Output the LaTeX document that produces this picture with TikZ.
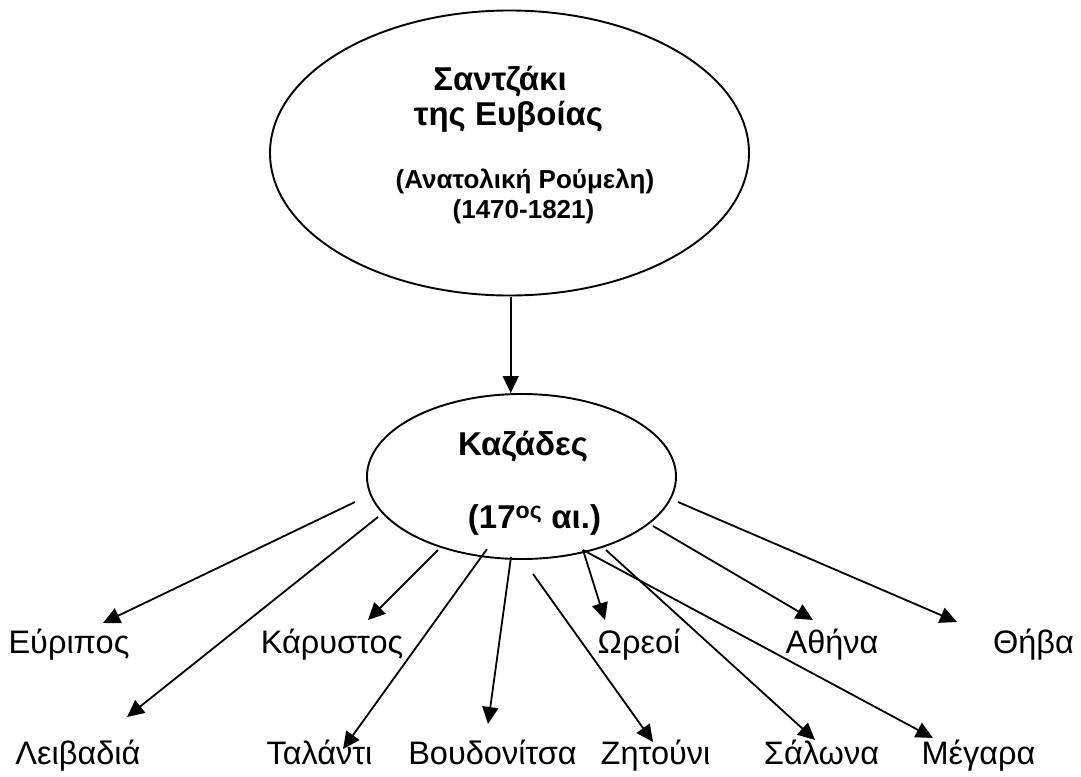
\documentclass[tikz,border=0pt]{standalone}
\usepackage{fontspec}
\setmainfont{Liberation Sans}
\usetikzlibrary{shapes.geometric,arrows.meta}
\begin{document}
\begin{tikzpicture}[x=1pt,y=-1pt,
  ell/.style={draw, ellipse, line width=1.9pt, inner sep=0pt},
  lbl/.style={font=\fontsize{32.5}{38}\selectfont, anchor=base, inner sep=0pt},
  ttl/.style={font=\fontsize{33}{38}\selectfont\bfseries, anchor=base, inner sep=0pt},
  subt/.style={font=\fontsize{26}{30}\selectfont\bfseries, anchor=base, inner sep=0pt},
  arr/.style={-{Triangle[length=17pt,width=16pt]}, line width=1.8pt}]
\useasboundingbox (0,0) rectangle (1081,776);
% ellipses
\node[ell, minimum width=479pt, minimum height=285pt] (sanj) at (509.5,153) {};
\node[ell, minimum width=309pt, minimum height=165pt] (kaz) at (521.5,476.5) {};
% texts in ellipses
\node[ttl] (t1) at (500,90) {Σαντζάκι};
\node[ttl] (t2) at (508.5,125) {της Ευβοίας};
\node[subt] (t3) at (525,188) {(Ανατολική Ρούμελη)};
\node[subt] (t4) at (523.5,218) {(1470-1821)};
\node[ttl] (k1) at (523,455) {Καζάδες};
\node[ttl] (k2) at (534.5,528) {(17\textsuperscript{ος} αι.)};
% labels
\node[lbl] (euripos) at (69,653) {Εύριπος};
\node[lbl] (karystos) at (332,653) {Κάρυστος};
\node[lbl] (oreoi) at (639,653) {Ωρεοί};
\node[lbl] (athina) at (832,653) {Αθήνα};
\node[lbl] (thiva) at (1033.5,653) {Θήβα};
\node[lbl] (leivadia) at (78,764) {Λειβαδιά};
\node[lbl] (talanti) at (319.5,764) {Ταλάντι};
\node[lbl] (voudonitsa) at (492.5,764) {Βουδονίτσα};
\node[lbl] (zitouni) at (655.5,764) {Ζητούνι};
\node[lbl] (salona) at (821.5,764) {Σάλωνα};
\node[lbl] (megara) at (978.5,764) {Μέγαρα};
% connector end points
\coordinate (s0) at (510.7,297);  \coordinate (e0) at (510.7,393);
\coordinate (s1) at (355,502);    \coordinate (e1) at (103,623);
\coordinate (s2) at (378,517);    \coordinate (e2) at (127,717);
\coordinate (s3) at (438,550);    \coordinate (e3) at (368,620);
\coordinate (s4) at (487,549);    \coordinate (e4) at (343,749);
\coordinate (s5) at (511,557);    \coordinate (e5) at (488,724);
\coordinate (s6) at (533,574);    \coordinate (e6) at (653,742);
\coordinate (s7) at (583,550);    \coordinate (e7) at (605,620);
\coordinate (s8) at (606,550);    \coordinate (e8) at (815,740);
\coordinate (s9) at (583,550);    \coordinate (e9) at (933,738);
\coordinate (s10) at (653,526);   \coordinate (e10) at (813,620);
\coordinate (s11) at (678,502);   \coordinate (e11) at (957,622);
% connectors
\draw[arr] (s0) -- (e0);
\draw[arr] (s1) -- (e1);
\draw[arr] (s2) -- (e2);
\draw[arr] (s3) -- (e3);
\draw[arr] (s4) -- (e4);
\draw[arr] (s5) -- (e5);
\draw[arr] (s6) -- (e6);
\draw[arr] (s7) -- (e7);
\draw[arr] (s8) -- (e8);
\draw[arr] (s9) -- (e9);
\draw[arr] (s10) -- (e10);
\draw[arr] (s11) -- (e11);
\end{tikzpicture}
\end{document}
